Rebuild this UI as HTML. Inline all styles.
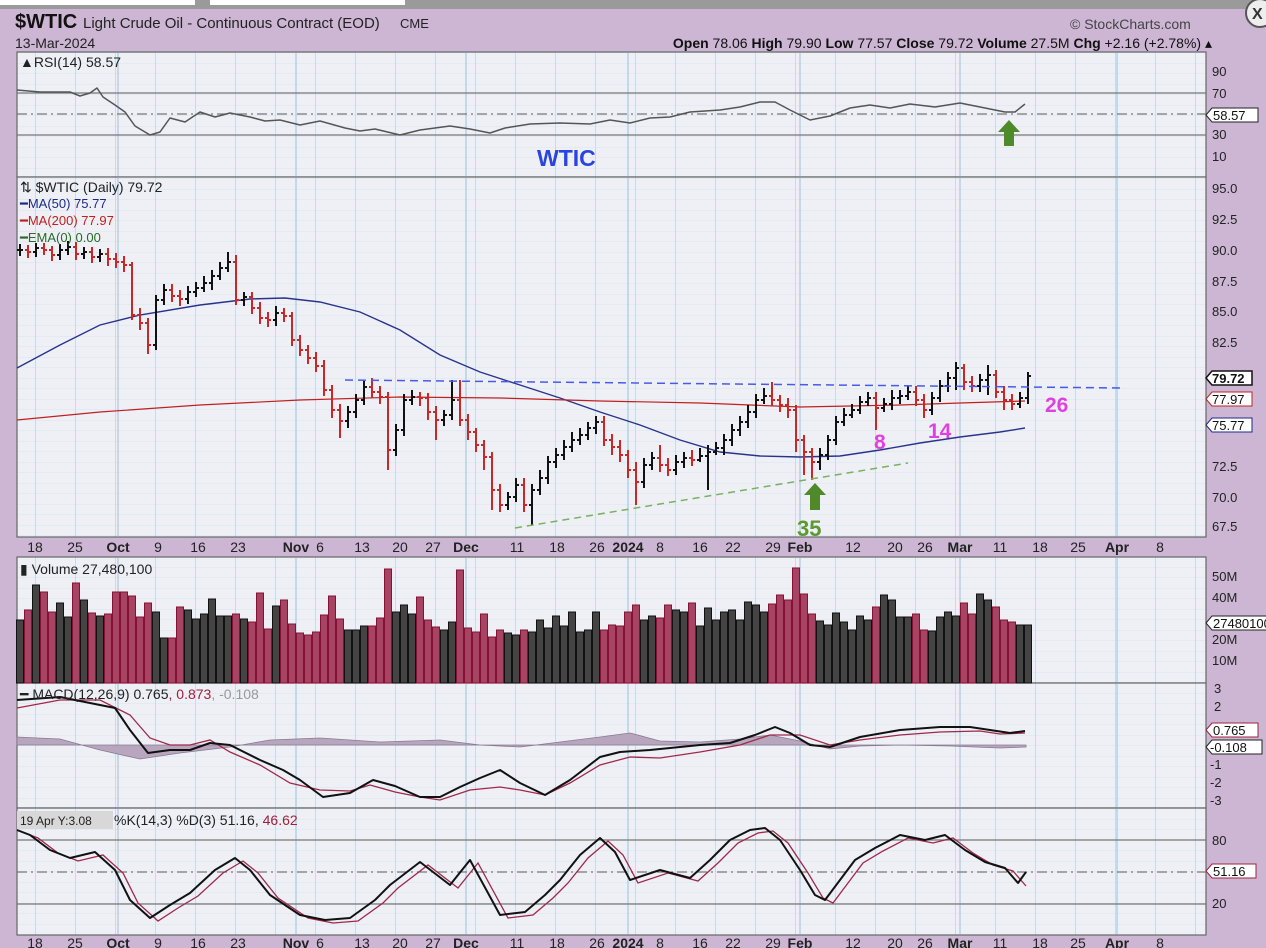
<!DOCTYPE html>
<html><head><meta charset="utf-8">
<style>
html,body{margin:0;padding:0;width:1266px;height:948px;overflow:hidden;background:#ccb6d4;}
svg{display:block;font-family:"Liberation Sans",sans-serif;}
</style></head>
<body>
<svg width="1266" height="948" viewBox="0 0 1266 948" xmlns="http://www.w3.org/2000/svg">
<defs>
<pattern id="gp" patternUnits="userSpaceOnUse" x="35" y="0" width="40" height="10.5">
<rect width="40" height="10.5" fill="#eef0f6"/>
<line x1="0" y1="0" x2="40" y2="0" stroke="#d6e3ee" stroke-width="1"/>
<line x1="0.5" y1="0" x2="0.5" y2="10.5" stroke="#c6dcec" stroke-width="1"/>
</pattern>
</defs>
<rect x="0" y="0" width="1266" height="948" fill="#ccb6d4"/>
<rect x="0" y="0" width="1266" height="9" fill="#9a9a9a"/>
<rect x="0" y="0" width="195" height="5" fill="#fff"/>
<rect x="210" y="0" width="195" height="5" fill="#fff"/>
<circle cx="1260" cy="13" r="14" fill="#eee" stroke="#555" stroke-width="2"/>
<text x="1252" y="19" font-size="16" font-weight="bold" fill="#333">X</text>

<g fill="url(#gp)" stroke="#666" stroke-width="1.2">
<rect x="17" y="52" width="1189" height="125"/>
<rect x="17" y="177" width="1189" height="360"/>
<rect x="17" y="557" width="1189" height="126"/>
<rect x="17" y="683" width="1189" height="125"/>
<rect x="17" y="808" width="1189" height="127"/>
</g>
<g stroke="#a9cde3" stroke-width="1.3">
<path d="M118 53V176M296 53V176M466 53V176M628 53V176M800 53V176M960 53V176M1117 53V176"/>
<path d="M118 178V536M296 178V536M466 178V536M628 178V536M800 178V536M960 178V536M1117 178V536"/>
<path d="M118 558V682M296 558V682M466 558V682M628 558V682M800 558V682M960 558V682M1117 558V682"/>
<path d="M118 684V807M296 684V807M466 684V807M628 684V807M800 684V807M960 684V807M1117 684V807"/>
<path d="M118 809V934M296 809V934M466 809V934M628 809V934M800 809V934M960 809V934M1117 809V934"/>
</g>
<g stroke="#777" stroke-width="1.2" fill="none">
<path d="M17 93H1206M17 135H1206M17 840H1206M17 904H1206"/>
<path d="M17 114H1206M17 872H1206" stroke-dasharray="10,4,2,4"/>
</g>

<g font-size="14" fill="#222" text-anchor="middle">
<text x="35" y="552">18</text><text x="75" y="552">25</text><text x="118" y="552" font-weight="bold">Oct</text><text x="158" y="552">9</text><text x="198" y="552">16</text><text x="238" y="552">23</text><text x="296" y="552" font-weight="bold">Nov</text><text x="320" y="552">6</text><text x="362" y="552">13</text><text x="400" y="552">20</text><text x="433" y="552">27</text><text x="466" y="552" font-weight="bold">Dec</text><text x="517" y="552">11</text><text x="557" y="552">18</text><text x="597" y="552">26</text><text x="628" y="552" font-weight="bold">2024</text><text x="660" y="552">8</text><text x="700" y="552">16</text><text x="733" y="552">22</text><text x="773" y="552">29</text><text x="800" y="552" font-weight="bold">Feb</text><text x="853" y="552">12</text><text x="895" y="552">20</text><text x="925" y="552">26</text><text x="960" y="552" font-weight="bold">Mar</text><text x="1000" y="552">11</text><text x="1040" y="552">18</text><text x="1078" y="552">25</text><text x="1117" y="552" font-weight="bold">Apr</text><text x="1160" y="552">8</text>
<text x="35" y="948">18</text><text x="75" y="948">25</text><text x="118" y="948" font-weight="bold">Oct</text><text x="158" y="948">9</text><text x="198" y="948">16</text><text x="238" y="948">23</text><text x="296" y="948" font-weight="bold">Nov</text><text x="320" y="948">6</text><text x="362" y="948">13</text><text x="400" y="948">20</text><text x="433" y="948">27</text><text x="466" y="948" font-weight="bold">Dec</text><text x="517" y="948">11</text><text x="557" y="948">18</text><text x="597" y="948">26</text><text x="628" y="948" font-weight="bold">2024</text><text x="660" y="948">8</text><text x="700" y="948">16</text><text x="733" y="948">22</text><text x="773" y="948">29</text><text x="800" y="948" font-weight="bold">Feb</text><text x="853" y="948">12</text><text x="895" y="948">20</text><text x="925" y="948">26</text><text x="960" y="948" font-weight="bold">Mar</text><text x="1000" y="948">11</text><text x="1040" y="948">18</text><text x="1078" y="948">25</text><text x="1117" y="948" font-weight="bold">Apr</text><text x="1160" y="948">8</text>
</g>

<!-- RSI line -->
<path fill="none" stroke="#555" stroke-width="1.5" stroke-linejoin="round" d="M17 90L40 92L70 92L80 96L90 93L97 88L103 97L115 105L125 112L135 126L150 135L160 132L170 118L185 122L200 112L215 117L230 113L250 117L265 121L280 120L300 125L320 121L345 128L360 131L375 129L400 135L420 130L450 126L470 129L490 133L505 128L530 124L560 123L590 124L610 120L630 123L650 118L670 117L690 112L720 110L740 107L760 102L775 102L790 110L810 120L830 116L850 108L870 105L890 108L910 104L935 107L960 103L985 108L1005 112L1015 112L1025 104"/>

<path fill="none" stroke="#2a338a" stroke-width="1.4" d="M17 368L60 345L100 325L140 315L200 305L250 299L285 298L320 302L360 312L400 330L440 355L480 372L520 385L560 398L600 412L640 425L680 440L720 452L760 456L800 457L840 456L880 450L920 443L960 437L1000 432L1025 428"/>
<path fill="none" stroke="#c02020" stroke-width="1.2" d="M17 420L100 412L200 405L300 400L400 397L500 398L600 401L700 403L800 407L850 406L900 405L960 403L1025 401"/>

<path fill="none" stroke="#111" stroke-width="2" d="M20 244V256M17 250H20M20 250H23M36 243V257M33 252H36M36 248H39M60 244V260M57 255H60M60 250H63M68 241V255M65 250H68M68 247H71M84 247V259M81 254H84M84 252H87M100 249V262M97 257H100M100 254H103M156 295V350M153 345H156M156 300H159M164 284V305M161 300H164M164 290H167M188 286V304M185 299H188M188 292H191M196 282V297M193 292H196M196 288H199M204 276V292M201 288H204M204 283H207M212 270V290M209 283H212M212 276H215M220 262V280M217 276H220M220 268H223M228 252V272M225 268H228M228 262H231M244 292V306M241 300H244M244 297H247M276 306V326M273 320H276M276 313H279M348 406V428M345 421H348M348 412H351M356 394V418M353 412H356M356 400H359M364 380V405M361 400H364M364 387H367M396 424V456M393 450H396M396 430H399M404 394V436M401 430H404M404 400H407M412 390V405M409 400H412M412 397H415M444 410V426M441 420H444M444 415H447M452 380V420M449 415H452M452 400H455M508 492V510M505 505H508M508 497H511M516 478V502M513 497H516M516 485H519M532 484V525M529 505H532M532 490H535M540 470V495M537 490H540M540 478H543M548 456V484M545 478H548M548 462H551M556 448V468M553 462H556M556 455H559M564 440V460M561 455H564M564 447H567M572 432V452M569 447H572M572 440H575M580 428V445M577 440H580M580 435H583M588 422V440M585 435H588M588 428H591M596 416V434M593 428H596M596 422H599M644 458V488M641 482H644M644 465H647M652 452V470M649 465H652M652 458H655M676 455V475M673 470H676M676 462H679M684 452V468M681 462H684M684 458H687M700 448V462M697 460H700M700 456H703M708 445V490M705 456H708M708 452H711M716 442V455M713 452H716M716 448H719M724 434V455M721 448H724M724 440H727M732 424V446M729 440H732M732 430H735M740 416V436M737 430H740M740 422H743M748 405V428M745 422H748M748 412H751M756 394V418M753 412H756M756 400H759M764 388V404M761 400H764M764 396H767M820 448V470M817 462H820M820 455H823M828 435V460M825 455H828M828 440H831M836 416V445M833 440H836M836 422H839M844 408V426M841 422H844M844 415H847M852 404V418M849 415H852M852 410H855M860 396V414M857 410H860M860 402H863M868 392V406M865 402H868M868 398H871M884 398V412M881 408H884M884 404H887M892 390V410M889 404H892M892 398H895M900 390V404M897 398H900M900 396H903M908 386V400M905 396H908M908 392H911M932 392V415M929 410H932M932 398H935M940 380V402M937 398H940M940 386H943M948 372V392M945 386H948M948 378H951M956 362V390M953 378H956M956 368H959M980 374V392M977 386H980M980 380H983M988 365V395M985 380H988M988 375H991M1020 392V408M1017 404H1020M1020 398H1023M1028 372V404M1025 398H1028M1028 376H1031"/>
<path fill="none" stroke="#c82828" stroke-width="2" d="M28 245V258M25 250H28M28 252H31M44 243V255M41 248H44M44 250H47M52 246V261M49 250H52M52 255H55M76 242V260M73 247H76M76 254H79M92 247V263M89 252H92M92 257H95M108 248V266M105 254H108M108 259H111M116 253V268M113 259H116M116 262H119M124 256V272M121 262H124M124 265H127M132 262V320M129 265H132M132 315H135M140 308V330M137 315H140M140 323H143M148 318V354M145 323H148M148 345H151M172 284V302M169 290H172M172 296H175M180 290V306M177 296H180M180 299H183M236 255V305M233 262H236M236 300H239M252 292V314M249 297H252M252 308H255M260 302V324M257 308H260M260 318H263M268 312V327M265 318H268M268 320H271M284 308V322M281 313H284M284 316H287M292 312V346M289 316H292M292 340H295M300 335V356M297 340H300M300 350H303M308 345V364M305 350H308M308 358H311M316 352V372M313 358H316M316 366H319M324 360V396M321 366H324M324 390H327M332 385V418M329 390H332M332 410H335M340 404V438M337 410H340M340 421H343M372 378V398M369 387H372M372 392H375M380 386V404M377 392H380M380 397H383M388 392V470M385 397H388M388 450H391M420 392V406M417 397H420M420 398H423M428 393V420M425 398H428M428 412H431M436 406V440M433 412H436M436 420H439M460 380V426M457 400H460M460 420H463M468 414V440M465 420H468M468 432H471M476 428V452M473 432H476M476 445H479M484 440V470M481 445H484M484 457H487M492 452V510M489 457H492M492 490H495M500 484V512M497 490H500M500 505H503M524 478V512M521 485H524M524 505H527M604 416V446M601 422H604M604 440H607M612 434V455M609 440H612M612 447H615M620 440V462M617 447H620M620 455H623M628 450V478M625 455H628M628 470H631M636 462V505M633 470H636M636 482H639M660 445V472M657 458H660M660 465H663M668 458V476M665 465H668M668 470H671M692 450V466M689 458H692M692 460H695M772 382V406M769 396H772M772 400H775M780 395V412M777 400H780M780 405H783M788 398V418M785 405H788M788 410H791M796 405V452M793 410H796M796 440H799M804 435V475M801 440H804M804 452H807M812 448V480M809 452H812M812 462H815M876 392V430M873 398H876M876 408H879M916 386V406M913 392H916M916 400H919M924 394V418M921 400H924M924 410H927M964 364V390M961 368H964M964 382H967M972 376V392M969 382H972M972 386H975M996 370V398M993 375H996M996 392H999M1004 386V410M1001 392H1004M1004 400H1007M1012 394V410M1009 400H1012M1012 404H1015"/>

<path d="M345 380L1125 388" stroke="#4a5ae8" stroke-width="1.5" stroke-dasharray="8,5" fill="none"/>
<path d="M515 528L908 463" stroke="#7ab060" stroke-width="1.5" stroke-dasharray="7,5" fill="none"/>

<path fill="#444" stroke="#111" stroke-width="1" d="M16.5 620h7V683h-7ZM32.5 585h7V683h-7ZM56.5 603h7V683h-7ZM64.5 617h7V683h-7ZM80.5 600h7V683h-7ZM96.5 616h7V683h-7ZM152.5 612h7V683h-7ZM160.5 638h7V683h-7ZM184.5 610h7V683h-7ZM192.5 619h7V683h-7ZM200.5 614h7V683h-7ZM208.5 599h7V683h-7ZM216.5 616h7V683h-7ZM224.5 616h7V683h-7ZM240.5 619h7V683h-7ZM272.5 606h7V683h-7ZM344.5 630h7V683h-7ZM352.5 630h7V683h-7ZM360.5 626h7V683h-7ZM392.5 612h7V683h-7ZM400.5 605h7V683h-7ZM408.5 614h7V683h-7ZM440.5 630h7V683h-7ZM448.5 622h7V683h-7ZM504.5 633h7V683h-7ZM512.5 635h7V683h-7ZM528.5 632h7V683h-7ZM536.5 620h7V683h-7ZM544.5 628h7V683h-7ZM552.5 616h7V683h-7ZM560.5 626h7V683h-7ZM568.5 612h7V683h-7ZM576.5 632h7V683h-7ZM584.5 630h7V683h-7ZM592.5 612h7V683h-7ZM640.5 620h7V683h-7ZM648.5 616h7V683h-7ZM672.5 610h7V683h-7ZM680.5 612h7V683h-7ZM696.5 626h7V683h-7ZM704.5 608h7V683h-7ZM712.5 620h7V683h-7ZM720.5 612h7V683h-7ZM728.5 610h7V683h-7ZM736.5 620h7V683h-7ZM744.5 602h7V683h-7ZM752.5 605h7V683h-7ZM760.5 612h7V683h-7ZM816.5 621h7V683h-7ZM824.5 625h7V683h-7ZM832.5 613h7V683h-7ZM840.5 622h7V683h-7ZM848.5 630h7V683h-7ZM856.5 616h7V683h-7ZM864.5 620h7V683h-7ZM880.5 595h7V683h-7ZM888.5 600h7V683h-7ZM896.5 617h7V683h-7ZM904.5 617h7V683h-7ZM928.5 631h7V683h-7ZM936.5 617h7V683h-7ZM944.5 612h7V683h-7ZM952.5 616h7V683h-7ZM976.5 594h7V683h-7ZM984.5 600h7V683h-7ZM1016.5 625h7V683h-7ZM1024.5 625h7V683h-7Z"/>
<path fill="#a64466" stroke="#8a1030" stroke-width="1" d="M24.5 610h7V683h-7ZM40.5 592h7V683h-7ZM48.5 612h7V683h-7ZM72.5 583h7V683h-7ZM88.5 613h7V683h-7ZM104.5 614h7V683h-7ZM112.5 592h7V683h-7ZM120.5 592h7V683h-7ZM128.5 596h7V683h-7ZM136.5 617h7V683h-7ZM144.5 603h7V683h-7ZM168.5 638h7V683h-7ZM176.5 607h7V683h-7ZM232.5 614h7V683h-7ZM248.5 622h7V683h-7ZM256.5 593h7V683h-7ZM264.5 629h7V683h-7ZM280.5 600h7V683h-7ZM288.5 624h7V683h-7ZM296.5 633h7V683h-7ZM304.5 635h7V683h-7ZM312.5 632h7V683h-7ZM320.5 615h7V683h-7ZM328.5 596h7V683h-7ZM336.5 619h7V683h-7ZM368.5 626h7V683h-7ZM376.5 618h7V683h-7ZM384.5 569h7V683h-7ZM416.5 597h7V683h-7ZM424.5 620h7V683h-7ZM432.5 627h7V683h-7ZM456.5 570h7V683h-7ZM464.5 628h7V683h-7ZM472.5 632h7V683h-7ZM480.5 614h7V683h-7ZM488.5 637h7V683h-7ZM496.5 630h7V683h-7ZM520.5 630h7V683h-7ZM600.5 630h7V683h-7ZM608.5 625h7V683h-7ZM616.5 626h7V683h-7ZM624.5 612h7V683h-7ZM632.5 605h7V683h-7ZM656.5 618h7V683h-7ZM664.5 605h7V683h-7ZM688.5 603h7V683h-7ZM768.5 604h7V683h-7ZM776.5 595h7V683h-7ZM784.5 600h7V683h-7ZM792.5 568h7V683h-7ZM800.5 594h7V683h-7ZM808.5 614h7V683h-7ZM872.5 607h7V683h-7ZM912.5 614h7V683h-7ZM920.5 630h7V683h-7ZM960.5 603h7V683h-7ZM968.5 614h7V683h-7ZM992.5 607h7V683h-7ZM1000.5 620h7V683h-7ZM1008.5 622h7V683h-7Z"/>

<path fill="#b8a6bf" stroke="#8a7a90" stroke-width="0.8" d="M17 745L17 737L60 739L100 750L140 759L180 753L230 747L270 740L320 738L380 742L440 740L480 745L520 747L560 742L600 737L630 733L660 741L700 742L740 739L770 735L800 741L830 749L860 746L900 745L950 746L1000 748L1026 747L1026 745Z"/>
<path fill="none" stroke="#a02848" stroke-width="1.3" d="M17 708L60 700L100 700L130 715L150 738L170 745L190 745L210 740L230 752L260 765L290 783L320 790L350 791L370 785L395 792L420 797L440 800L470 790L500 787L520 790L545 795L570 783L600 765L630 757L660 758L700 752L740 745L770 735L800 735L830 745L860 740L900 735L940 732L980 731L1000 734L1025 733"/>
<path fill="none" stroke="#111" stroke-width="2" stroke-linejoin="round" d="M17 700L60 697L90 703L115 708L130 730L148 753L170 750L190 750L210 743L230 745L260 760L283 770L300 780L323 797L350 793L373 780L395 786L420 797L440 797L460 787L480 778L500 770L520 783L545 795L570 780L600 757L620 752L650 750L700 745L730 743L755 735L775 727L790 733L810 745L830 747L860 737L900 730L940 727L970 727L990 730L1010 733L1025 731"/>

<path fill="none" stroke="#a02848" stroke-width="1.3" d="M25 833L38 838L58 853L78 861L103 855L123 873L138 903L158 921L178 908L198 896L223 873L243 861L258 873L278 898L308 918L333 923L358 921L383 903L398 888L428 865L458 888L478 863L508 918L533 915L553 898L568 883L588 858L608 841L623 855L638 883L668 873L698 881L718 863L738 843L758 833L773 831L788 843L808 873L823 898L833 903L848 883L863 863L883 851L908 838L933 843L953 838L973 853L993 865L1013 871L1026 886"/>
<path fill="none" stroke="#111" stroke-width="2" stroke-linejoin="round" d="M17 830L30 835L50 850L70 858L95 852L115 870L130 900L150 918L170 905L190 893L215 870L235 858L250 870L270 895L300 915L325 920L350 918L375 900L390 885L420 862L450 885L470 860L500 915L525 912L545 895L560 880L580 855L600 838L615 852L630 880L660 870L690 878L710 860L730 840L750 830L765 828L780 840L800 870L815 895L825 900L840 880L855 860L875 848L900 835L925 840L945 835L965 850L985 862L1005 868L1018 883L1026 872"/>

<text x="15" y="28" font-size="20" font-weight="bold" fill="#111">$WTIC</text>
<text x="83" y="28" font-size="15" fill="#222">Light Crude Oil - Continuous Contract (EOD)</text>
<text x="400" y="28" font-size="13" fill="#222">CME</text>
<text x="15" y="48" font-size="14" fill="#222">13-Mar-2024</text>
<text x="1070" y="29" font-size="14" fill="#444">© StockCharts.com</text>
<text x="1212" y="48" font-size="14" fill="#111" text-anchor="end"><tspan font-weight="bold">Open</tspan> 78.06  <tspan font-weight="bold">High</tspan> 79.90  <tspan font-weight="bold">Low</tspan> 77.57  <tspan font-weight="bold">Close</tspan> 79.72  <tspan font-weight="bold">Volume</tspan> 27.5M  <tspan font-weight="bold">Chg</tspan> +2.16 (+2.78%) ▴</text>
<text x="20" y="67" font-size="14" fill="#222">▲RSI(14) 58.57</text>
<text x="537" y="166" font-size="23" font-weight="bold" fill="#2a44e0">WTIC</text>
<text x="20" y="192" font-size="14" fill="#222">⇅ $WTIC (Daily) 79.72</text>
<text x="20" y="208" font-size="13" fill="#1b2a8a">━MA(50) 75.77</text>
<text x="20" y="225" font-size="13" fill="#c02020">━MA(200) 77.97</text>
<text x="20" y="242" font-size="13" fill="#2a6a2a">━EMA(0) 0.00</text>
<text x="20" y="574" font-size="14" fill="#222">▮ Volume 27,480,100</text>
<text x="20" y="699" font-size="14" fill="#222">━ MACD(12,26,9) 0.765<tspan fill="#a0203a">, 0.873</tspan><tspan fill="#999">, -0.108</tspan></text>
<rect x="17" y="811" width="96" height="18" fill="#d8d8d8"/>
<text x="20" y="825" font-size="12" fill="#222">19 Apr Y:3.08</text>
<text x="114" y="825" font-size="14" fill="#222">%K(14,3) %D(3) 51.16, <tspan fill="#a0203a">46.62</tspan></text>
<text x="874" y="449" font-size="21" font-weight="bold" fill="#e040e0">8</text>
<text x="928" y="438" font-size="21" font-weight="bold" fill="#e040e0">14</text>
<text x="1045" y="412" font-size="21" font-weight="bold" fill="#e040e0">26</text>
<text x="797" y="536" font-size="22" font-weight="bold" fill="#5a9a30">35</text>
<path d="M815 483L826 495L820 495L820 510L810 510L810 495L804 495Z" fill="#4e8a2a"/>
<path d="M1009 120L1020 132L1014 132L1014 146L1004 146L1004 132L998 132Z" fill="#4e8a2a"/>
<g font-size="13" fill="#222">
<text x="1212" y="76">90</text><text x="1212" y="98">70</text><text x="1212" y="139">30</text><text x="1212" y="161">10</text>
<text x="1212" y="193">95.0</text><text x="1212" y="224">92.5</text><text x="1212" y="255">90.0</text><text x="1212" y="286">87.5</text><text x="1212" y="316">85.0</text><text x="1212" y="347">82.5</text><text x="1212" y="471">72.5</text><text x="1212" y="502">70.0</text><text x="1212" y="531">67.5</text>
<text x="1212" y="581">50M</text><text x="1212" y="602">40M</text><text x="1212" y="644">20M</text><text x="1212" y="665">10M</text>
<text x="1214" y="693">3</text><text x="1214" y="711">2</text><text x="1210" y="769">-1</text><text x="1210" y="787">-2</text><text x="1210" y="805">-3</text>
<text x="1212" y="845">80</text><text x="1212" y="908">20</text>
</g>
<g font-size="13" fill="#111">
<path d="M1206 115l6 -7h46v14h-46z" fill="#fff" stroke="#222"/><text x="1213" y="120">58.57</text>
<path d="M1206 378l6 -7h40v14h-40z" fill="#fff" stroke="#111" stroke-width="1.5"/><text x="1212" y="383" font-weight="bold">79.72</text>
<path d="M1206 399l6 -7h40v14h-40z" fill="#fff" stroke="#c02020"/><text x="1212" y="404">77.97</text>
<path d="M1206 425l6 -7h40v14h-40z" fill="#fff" stroke="#1b2a8a"/><text x="1212" y="430">75.77</text>
<path d="M1206 623l6 -7h60v14h-60z" fill="#fff" stroke="#222"/><text x="1213" y="628">27480100</text>
<path d="M1206 730l6 -7h46v14h-46z" fill="#fff" stroke="#a0203a"/><text x="1213" y="735">0.765</text>
<path d="M1206 747l6 -7h50v14h-50z" fill="#fff" stroke="#222"/><text x="1210" y="752">-0.108</text>
<path d="M1206 871l6 -7h44v14h-44z" fill="#fff" stroke="#a0203a"/><text x="1213" y="876">51.16</text>
</g>
</svg>
</body></html>
